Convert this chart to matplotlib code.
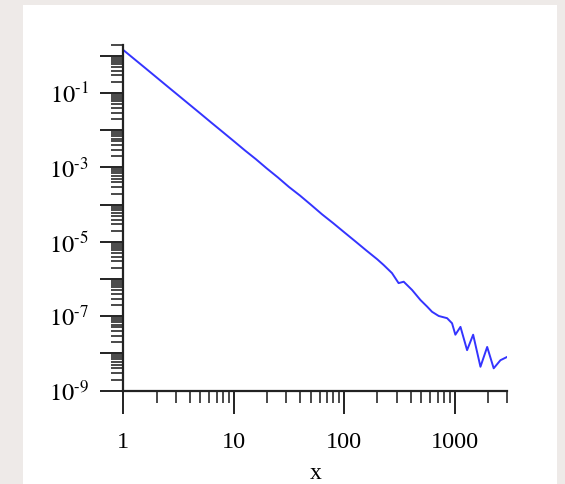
import matplotlib
matplotlib.use('Agg')
from matplotlib import pyplot as plt
from matplotlib.patches import Rectangle
from matplotlib.ticker import LogLocator, FixedLocator, FixedFormatter, NullFormatter

# log-binned density
x_vals = [1, 1.259, 1.585, 1.995, 2.512, 3.162, 3.981, 5.012, 6.310, 7.943,
          10, 12.59, 15.85, 19.95, 25.12, 31.62, 39.81, 50.12, 63.10, 79.43,
          100, 125.9, 158.5, 199.5, 227.5, 271, 311, 346, 412, 490,
          564, 625, 718, 855, 948, 1016, 1130, 1297, 1472, 1714,
          1972, 2259, 2600, 2992]
y_vals = [1.44, 0.82, 0.468, 0.266, 0.151, 0.0861, 0.0490, 0.0279, 0.0158, 0.00902,
          0.00513, 0.00290, 0.00168, 0.000940, 0.000540, 0.000300, 0.000176, 9.9e-5, 5.5e-5, 3.2e-5,
          1.82e-5, 1.04e-5, 5.9e-6, 3.4e-6, 2.40e-6, 1.45e-6, 7.8e-7, 8.5e-7, 5.1e-7, 2.75e-7,
          1.82e-7, 1.32e-7, 1.02e-7, 8.9e-8, 6.5e-8, 3.2e-8, 5.2e-8, 1.23e-8, 3.2e-8, 4.4e-9,
          1.5e-8, 4.0e-9, 6.6e-9, 8.1e-9]

x_ticks = [1, 10, 100, 1000]
x_ticklabels = ['1', '10', '100', '1000']
y_ticks = [1e-9, 1e-7, 1e-5, 1e-3, 1e-1]
y_ticklabels = [r'$10^{\text{-9}}$', r'$10^{\text{-7}}$', r'$10^{\text{-5}}$',
                r'$10^{\text{-3}}$', r'$10^{\text{-1}}$']

plt.rcParams['font.family'] = ['Liberation Serif', 'DejaVu Serif']
plt.rcParams['mathtext.fontset'] = 'stix'

fig = plt.figure(figsize=(5.65, 4.84), dpi=100)
fig.patch.set_facecolor('#eeeae8')
# white panel behind the plot
fig.patches.append(Rectangle((23 / 565, 0), (557 - 23) / 565, (484 - 5) / 484,
                             transform=fig.transFigure, facecolor='white',
                             edgecolor='none', zorder=-5))

ax = fig.add_axes([123.3 / 565, 93.3 / 484, 384 / 565, 346 / 484])
ax.set_zorder(2)
ax.set_facecolor('none')
ax.plot(x_vals, y_vals, color='#3434ff', lw=1.4)

ax.set_xscale('log')
ax.set_yscale('log')
ax.set_xlim(1, 3000)
ax.set_ylim(1e-9, 2)

for s in ['top', 'right']:
    ax.spines[s].set_visible(False)
for s in ['left', 'bottom']:
    ax.spines[s].set_linewidth(1.6)
    ax.spines[s].set_color('#222222')

ax.xaxis.set_major_locator(FixedLocator(x_ticks))
ax.xaxis.set_major_formatter(FixedFormatter(x_ticklabels))
ax.xaxis.set_minor_locator(LogLocator(base=10, subs=range(2, 10), numticks=20))
ax.xaxis.set_minor_formatter(NullFormatter())

# long ticks on every decade, labels only on odd ones
ax.yaxis.set_major_locator(LogLocator(base=10, subs=(1.0,), numticks=20))
ax.yaxis.set_major_formatter(NullFormatter())
ax.yaxis.set_minor_locator(LogLocator(base=10, subs=range(2, 10), numticks=20))
ax.yaxis.set_minor_formatter(NullFormatter())
for yt, lab in zip(y_ticks, y_ticklabels):
    ax.text(-0.09, yt, lab, transform=ax.get_yaxis_transform(), ha='right',
            va='center_baseline', fontsize=17.5)

ax.tick_params(axis='both', which='major', direction='out', length=16.5, width=1.4,
               color='#222222', labelsize=17.5)
ax.tick_params(axis='both', which='minor', direction='out', length=8.5, width=1.2,
               color='#2a2a2a')
ax.tick_params(axis='x', which='major', pad=13)

ax.set_xlabel('x', fontsize=17)
ax.xaxis.label.set_va('baseline')
ax.xaxis.set_label_coords(0.5, -0.254)

fig.savefig('out.png', dpi=100, facecolor=fig.get_facecolor())
